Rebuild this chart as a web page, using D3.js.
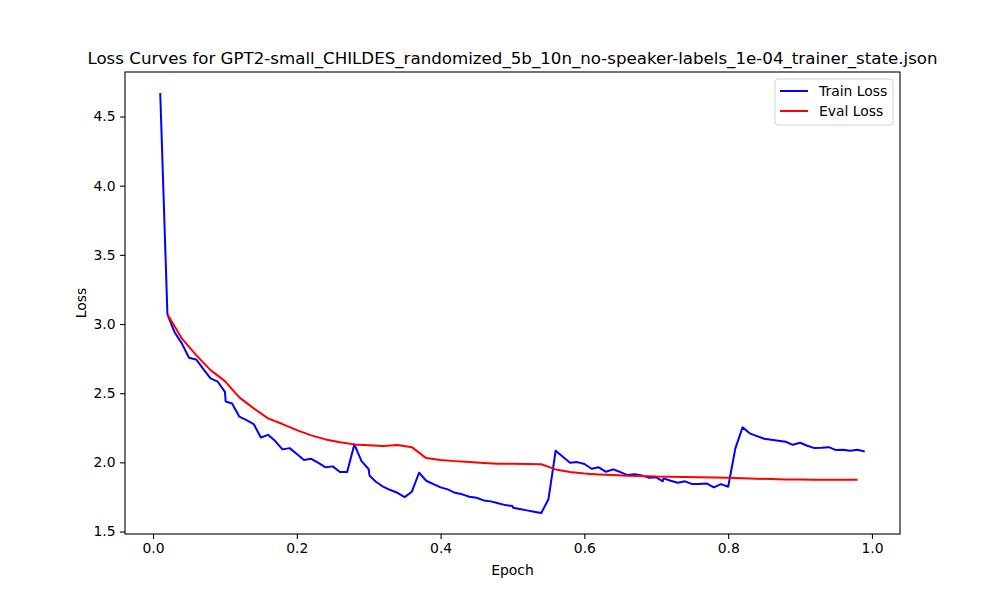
<!DOCTYPE html>
<html>
<head>
<meta charset="utf-8">
<script src="https://cdn.jsdelivr.net/npm/d3@7"></script>
<style>
  body { margin: 0; background: #fff; }
  text { font-family: "DejaVu Sans", sans-serif; fill: #000; }
</style>
</head>
<body>
<div id="chart"></div>
<script>
// train loss, logged every ~0.01 epoch (some epochs logged twice)
const trainEpoch = [0.01,0.02,0.03,0.04,0.05,0.06,0.07,0.08,0.09,0.10,0.101,0.11,0.12,0.13,0.14,0.15,0.16,0.17,0.18,0.19,
  0.20,0.21,0.22,0.23,0.24,0.25,0.26,0.27,0.28,0.29,0.30,0.301,0.31,0.32,0.33,0.34,0.35,0.36,0.37,0.38,0.39,
  0.40,0.41,0.42,0.43,0.44,0.45,0.46,0.47,0.48,0.49,0.50,0.501,0.51,0.52,0.53,0.54,0.55,0.56,0.57,0.58,0.59,
  0.60,0.61,0.62,0.63,0.64,0.65,0.66,0.67,0.68,0.69,0.70,0.709,0.71,0.72,0.73,0.74,0.75,0.76,0.77,0.78,0.79,
  0.80,0.81,0.82,0.83,0.84,0.85,0.86,0.87,0.88,0.89,0.90,0.91,0.92,0.93,0.94,0.95,0.96,0.97,0.98,0.99];
const trainLoss = [4.67,3.07,2.94,2.86,2.756,2.744,2.674,2.607,2.583,2.51,2.44,2.426,2.33,2.306,2.277,2.18,2.199,2.154,2.094,2.103,
  2.06,2.017,2.026,1.997,1.964,1.971,1.93,1.93,2.13,2.009,1.95,1.905,1.86,1.824,1.80,1.78,1.749,1.788,1.925,1.867,1.843,
  1.819,1.805,1.78,1.769,1.751,1.744,1.725,1.718,1.704,1.691,1.684,1.672,1.663,1.653,1.643,1.634,1.733,2.084,2.04,1.997,2.002,
  1.988,1.954,1.964,1.932,1.949,1.93,1.908,1.915,1.906,1.888,1.892,1.863,1.884,1.867,1.853,1.863,1.843,1.843,1.848,1.819,1.843,
  1.824,2.101,2.253,2.21,2.19,2.171,2.163,2.156,2.149,2.127,2.142,2.12,2.103,2.105,2.11,2.089,2.091,2.084,2.091,2.079];

// eval loss, every 0.02 epoch
const evalEpoch = [0.02,0.04,0.06,0.08,0.10,0.12,0.14,0.16,0.18,0.20,0.22,0.24,0.26,0.28,0.30,0.32,0.34,0.36,0.38,0.40,
  0.42,0.44,0.46,0.48,0.50,0.52,0.54,0.56,0.58,0.60,0.62,0.64,0.66,0.68,0.70,0.72,0.74,0.76,0.78,0.80,
  0.82,0.84,0.86,0.88,0.90,0.92,0.94,0.96,0.98];
const evalLoss = [3.071,2.896,2.775,2.667,2.587,2.47,2.39,2.318,2.277,2.233,2.195,2.166,2.145,2.13,2.123,2.118,2.125,2.11,2.031,2.017,
  2.009,2.002,1.995,1.99,1.99,1.988,1.986,1.949,1.93,1.92,1.913,1.908,1.903,1.901,1.897,1.896,1.895,1.893,1.891,1.889,
  1.886,1.882,1.879,1.877,1.876,1.875,1.875,1.875,1.874];

const xTicks = [0.0, 0.2, 0.4, 0.6, 0.8, 1.0];
const yTicks = [1.5, 2.0, 2.5, 3.0, 3.5, 4.0, 4.5];

const titleText = "Loss Curves for GPT2-small_CHILDES_randomized_5b_10n_no-speaker-labels_1e-04_trainer_state.json";

const W = 1000, H = 600;
const margin = {left: 125, right: 100, top: 72, bottom: 66};
const width = W - margin.left - margin.right;
const height = H - margin.top - margin.bottom;
const fs = "13.9px";

const svg = d3.select("#chart").append("svg")
    .attr("width", W)
    .attr("height", H);

// matplotlib style 5% padding on data range
function padded(ext) {
    let d = ext[1] - ext[0];
    return [ext[0] - d * 0.05, ext[1] + d * 0.05];
}

const x = d3.scaleLinear()
    .domain(padded(d3.extent(trainEpoch.concat(evalEpoch))))
    .range([0, width]);

const y = d3.scaleLinear()
    .domain(padded(d3.extent(trainLoss.concat(evalLoss))))
    .range([height, 0]);

const g = svg.append("g")
    .attr("transform", `translate(${margin.left}, ${margin.top})`);

// axes
const xAxis = d3.axisBottom(x)
    .tickValues(xTicks)
    .tickSize(4.9)
    .tickPadding(4.5)
    .tickFormat(d3.format(".1f"));

const yAxis = d3.axisLeft(y)
    .tickValues(yTicks)
    .tickSize(4.9)
    .tickPadding(4.5)
    .tickFormat(d3.format(".1f"));

g.append("g")
    .attr("transform", `translate(0, ${height})`)
    .call(xAxis)
    .call(a => a.select(".domain").remove())
    .selectAll("text").style("font-size", fs).attr("font-family", "DejaVu Sans");

g.append("g")
    .call(yAxis)
    .call(a => a.select(".domain").remove())
    .selectAll("text").style("font-size", fs).attr("font-family", "DejaVu Sans");

g.selectAll(".tick line").attr("stroke", "#000").attr("stroke-width", 1.1);

// lines
const trainData = trainEpoch.map((e, i) => [e, trainLoss[i]]);
const evalData = evalEpoch.map((e, i) => [e, evalLoss[i]]);

const line = d3.line()
    .x(d => x(d[0]))
    .y(d => y(d[1]));

g.append("path")
    .datum(trainData)
    .attr("fill", "none")
    .attr("stroke", "blue")
    .attr("stroke-width", 2)
    .attr("stroke-linejoin", "round")
    .attr("d", line);

g.append("path")
    .datum(evalData)
    .attr("fill", "none")
    .attr("stroke", "red")
    .attr("stroke-width", 2)
    .attr("stroke-linejoin", "round")
    .attr("d", line);

// frame
g.append("rect")
    .attr("width", width)
    .attr("height", height)
    .attr("fill", "none")
    .attr("stroke", "#000")
    .attr("stroke-width", 1.1);

// title & labels
svg.append("text")
    .attr("x", margin.left + width / 2)
    .attr("y", margin.top - 8.3)
    .attr("text-anchor", "middle")
    .style("font-size", "16.67px")
    .text(titleText);

svg.append("text")
    .attr("x", margin.left + width / 2)
    .attr("y", H - 25)
    .attr("text-anchor", "middle")
    .style("font-size", fs)
    .text("Epoch");

svg.append("text")
    .attr("transform", `translate(86, ${margin.top + height / 2}) rotate(-90)`)
    .attr("text-anchor", "middle")
    .style("font-size", fs)
    .text("Loss");

// legend
const legendItems = [
    {label: "Train Loss", color: "blue"},
    {label: "Eval Loss", color: "red"}
];

const legend = svg.append("g")
    .attr("transform", `translate(${margin.left + width - 125}, ${margin.top + 7})`);

legend.append("rect")
    .attr("width", 118)
    .attr("height", 46)
    .attr("rx", 3)
    .attr("fill", "rgba(255,255,255,0.8)")
    .attr("stroke", "#d0d0d0")
    .attr("stroke-width", 1);

legendItems.forEach((d, i) => {
    let row = legend.append("g").attr("transform", `translate(0, ${12 + i * 20})`);
    row.append("line")
        .attr("x1", 5).attr("x2", 33)
        .attr("y1", 0).attr("y2", 0)
        .attr("stroke", d.color)
        .attr("stroke-width", 2);
    row.append("text")
        .attr("x", 44)
        .attr("y", 4.9)
        .style("font-size", fs)
        .text(d.label);
});
</script>
</body>
</html>
